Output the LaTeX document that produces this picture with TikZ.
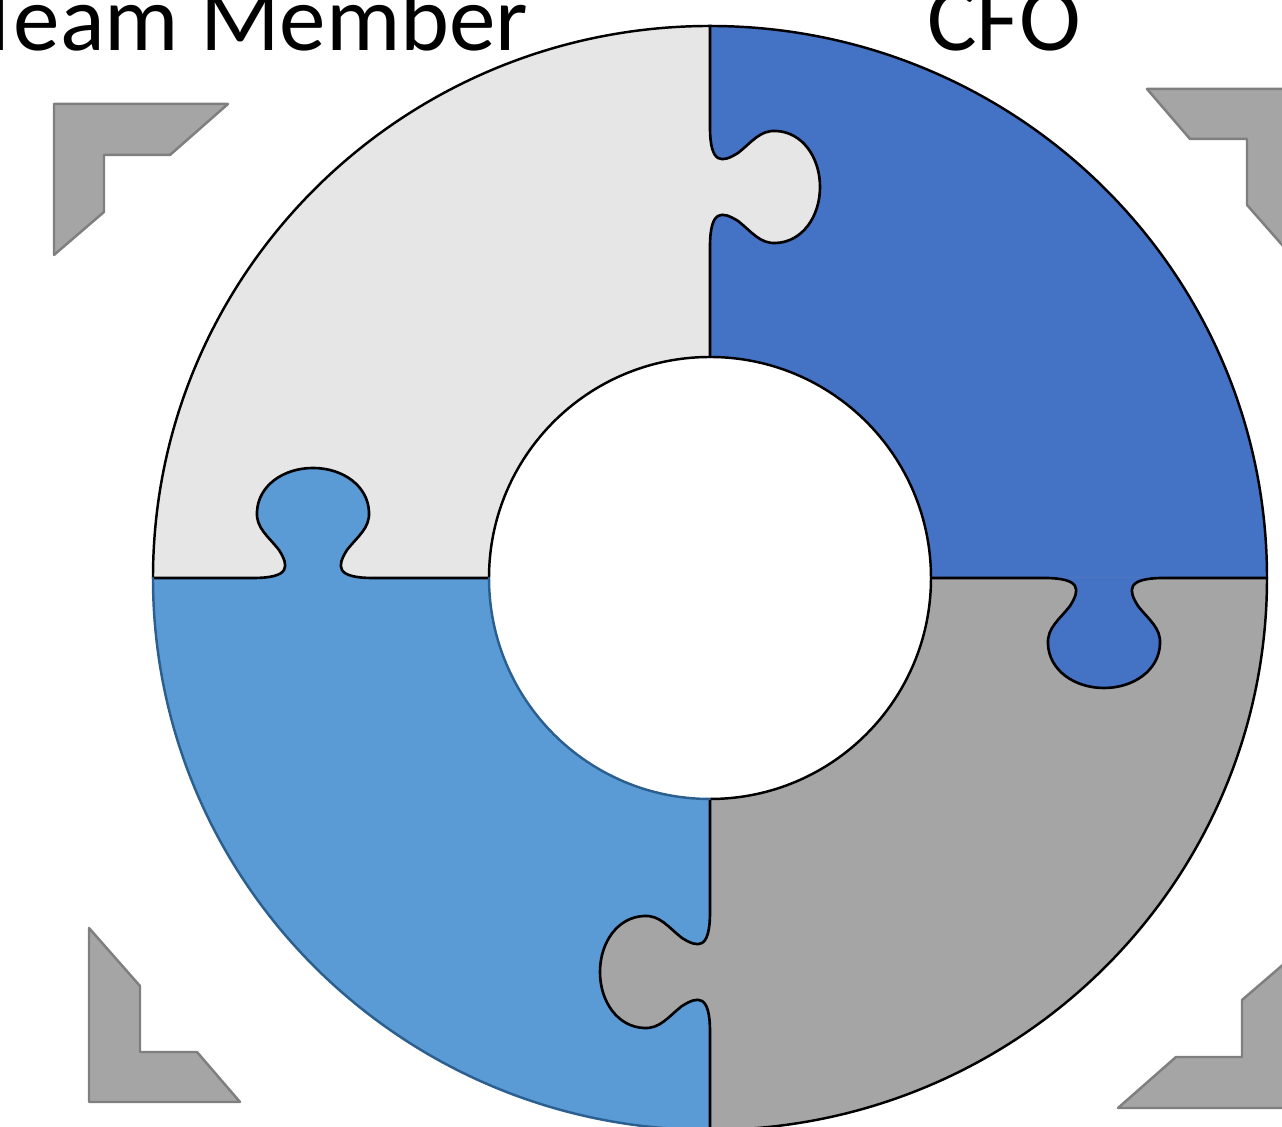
\documentclass[tikz,border=0pt]{standalone}
\usepackage{fontspec}
\setmainfont{Carlito}
\definecolor{lightpiece}{HTML}{E6E6E6}
\definecolor{darkpiece}{HTML}{4472C4}
\definecolor{graypiece}{HTML}{A5A5A5}
\definecolor{bluepiece}{HTML}{5B9BD5}
\definecolor{edgeblue}{HTML}{2A5F8F}
\definecolor{framegray}{HTML}{7F7F7F}
% one puzzle knob on a seam, centred at #1 along the ray
\newcommand{\knobcurve}[1]{({#1-0.60},0) .. controls ({#1-0.22},0) and ({#1-0.24},-0.12) .. ({#1-0.34},-0.28) .. controls ({#1-0.45},-0.42) and ({#1-0.57},-0.50) .. ({#1-0.56},-0.66) .. controls ({#1-0.55},-0.92) and ({#1-0.30},-1.10) .. (#1,-1.10) .. controls ({#1+0.30},-1.10) and ({#1+0.55},-0.92) .. ({#1+0.56},-0.66) .. controls ({#1+0.57},-0.50) and ({#1+0.45},-0.42) .. ({#1+0.34},-0.28) .. controls ({#1+0.24},-0.12) and ({#1+0.22},0) .. ({#1+0.60},0)}
\begin{document}
\begin{tikzpicture}[line cap=round,line join=round,x=1.0cm,y=1.0cm,
	seamline/.style={line width=0.75pt,draw=black},
	rimline/.style={line width=0.7pt},
	cornerframe/.style={fill=graypiece,draw=framegray,line width=0.7pt}]
		\clip(-7.10,-5.49) rectangle (5.72,5.78);
		% quarters of the ring
		\fill[darkpiece] (2.21,0) -- (5.57,0) arc[start angle=0,end angle=90,x radius=5.57,y radius=5.52] -- (0,2.21) arc[start angle=90,end angle=0,radius=2.21] -- cycle;
		\fill[lightpiece] (0,2.21) -- (0,5.52) arc[start angle=90,end angle=180,x radius=5.57,y radius=5.52] -- (-2.21,0) arc[start angle=180,end angle=90,radius=2.21] -- cycle;
		\fill[bluepiece] (-2.21,0) -- (-5.57,0) arc[start angle=180,end angle=270,x radius=5.57,y radius=5.52] -- (0,-2.21) arc[start angle=270,end angle=180,radius=2.21] -- cycle;
		\fill[graypiece] (0,-2.21) -- (0,-5.52) arc[start angle=270,end angle=360,x radius=5.57,y radius=5.52] -- (2.21,0) arc[start angle=0,end angle=-90,radius=2.21] -- cycle;
		% knobs
		\begin{scope}[rotate=90]
			\fill[lightpiece] \knobcurve{3.91} -- cycle;
			\draw[seamline] (2.21,0) -- \knobcurve{3.91} -- (5.52,0);
		\end{scope}
		\begin{scope}[rotate=180]
			\fill[bluepiece] \knobcurve{3.97} -- cycle;
			\draw[seamline] (2.21,0) -- \knobcurve{3.97} -- (5.57,0);
		\end{scope}
		\begin{scope}[rotate=0]
			\fill[darkpiece] \knobcurve{3.94} -- cycle;
			\draw[seamline] (2.21,0) -- \knobcurve{3.94} -- (5.57,0);
		\end{scope}
		\begin{scope}[rotate=270]
			\fill[graypiece] \knobcurve{3.94} -- cycle;
			\draw[seamline] (2.21,0) -- \knobcurve{3.94} -- (5.52,0);
		\end{scope}
		% rims
		\draw[rimline] (5.57,0) arc[start angle=0,end angle=180,x radius=5.57,y radius=5.52];
		\draw[rimline] (0,-5.52) arc[start angle=270,end angle=360,x radius=5.57,y radius=5.52];
		\draw[rimline,edgeblue] (-5.57,0) arc[start angle=180,end angle=270,x radius=5.57,y radius=5.52];
		\draw[rimline] (2.21,0) arc[start angle=0,end angle=180,radius=2.21];
		\draw[rimline] (0,-2.21) arc[start angle=270,end angle=360,radius=2.21];
		\draw[rimline,edgeblue] (-2.21,0) arc[start angle=180,end angle=270,radius=2.21];
		% corner frames
		\filldraw[cornerframe,shift={(-6.56,4.74)}] (0,0) -- (1.74,0) -- (1.16,-0.51) -- (0.50,-0.51) -- (0.50,-1.08) -- (0,-1.51) -- cycle;
		\filldraw[cornerframe,shift={(5.88,4.89)},rotate=-90] (0,0) -- (1.74,0) -- (1.16,-0.51) -- (0.50,-0.51) -- (0.50,-1.08) -- (0,-1.51) -- cycle;
		\filldraw[cornerframe,shift={(-6.21,-5.24)},rotate=90] (0,0) -- (1.74,0) -- (1.16,-0.51) -- (0.50,-0.51) -- (0.50,-1.08) -- (0,-1.51) -- cycle;
		\filldraw[cornerframe,shift={(5.82,-5.30)},rotate=180] (0,0) -- (1.74,0) -- (1.16,-0.51) -- (0.50,-0.51) -- (0.50,-1.08) -- (0,-1.51) -- cycle;
		% titles
		\node[anchor=base east,inner sep=0pt,font=\fontsize{26.5}{31}\selectfont] (member) at (-1.81,5.27) {Team Member};
		\node[anchor=base,inner sep=0pt,font=\fontsize{26.5}{31}\selectfont] (cfo) at (2.94,5.27) {CFO};
	\end{tikzpicture}
\end{document}
